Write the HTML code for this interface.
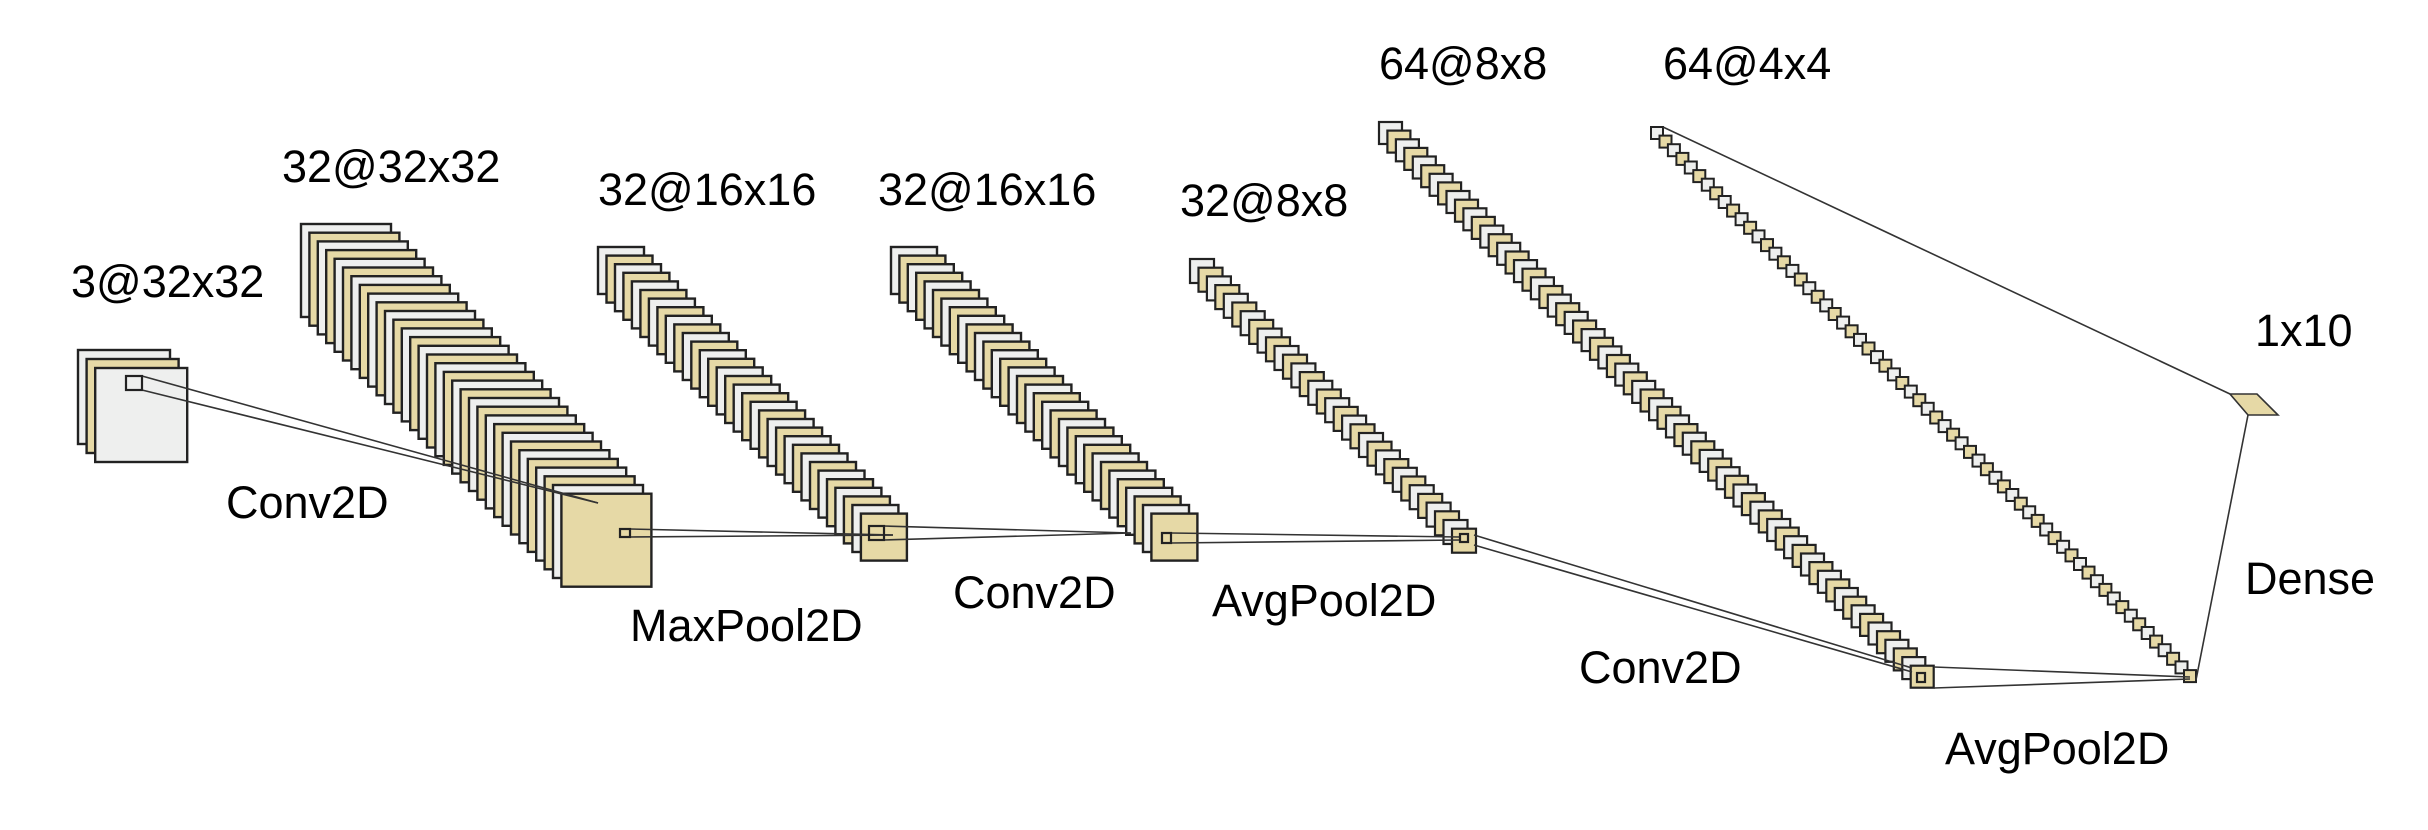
<!DOCTYPE html>
<html><head><meta charset="utf-8"><style>
html,body{margin:0;padding:0;background:#fff;width:2428px;height:830px;overflow:hidden}
svg{display:block}
text{font-family:"Liberation Sans",sans-serif;font-size:45px;fill:#000}
</style></head><body>
<svg id="s" width="2428" height="830" viewBox="0 0 2428 830" xmlns="http://www.w3.org/2000/svg">
<g id="stacks"></g>
<g id="lines" stroke="#333" stroke-width="1.6" fill="none">
<line x1="142" y1="376" x2="598" y2="503"/>
<line x1="142" y1="390" x2="598" y2="503"/>
<line x1="630" y1="529" x2="893" y2="535"/>
<line x1="630" y1="537" x2="893" y2="535"/>
<line x1="884" y1="526" x2="1131" y2="533"/>
<line x1="884" y1="540" x2="1131" y2="533"/>
<line x1="1171" y1="533" x2="1460" y2="537"/>
<line x1="1171" y1="543" x2="1460" y2="540"/>
<line x1="1474" y1="535" x2="1912" y2="668"/>
<line x1="1474" y1="545" x2="1912" y2="672"/>
<line x1="1934" y1="667" x2="2190" y2="677"/>
<line x1="1934" y1="688" x2="2190" y2="679"/>
<line x1="1663" y1="127" x2="2230" y2="394"/>
<line x1="2196" y1="680" x2="2248" y2="415"/>
</g>
<polygon points="2230,394 2257,394 2278,415 2248,415" fill="#e6d9a6" stroke="#333" stroke-width="1.6"/>
<g id="small" fill="none" stroke="#222" stroke-width="2.2">
<rect x="126" y="376" width="16" height="14"/>
<rect x="620" y="529" width="10" height="8"/>
<rect x="869" y="526" width="15" height="14"/>
<rect x="1162" y="533" width="9" height="10"/>
<rect x="1460" y="534" width="8" height="8"/>
<rect x="1917" y="673" width="8" height="9"/>
</g>
<text x="71" y="297">3@32x32</text>
<text x="282" y="182">32@32x32</text>
<text x="598" y="205">32@16x16</text>
<text x="878" y="205">32@16x16</text>
<text x="1180" y="216">32@8x8</text>
<text x="1379" y="79">64@8x8</text>
<text x="1663" y="79">64@4x4</text>
<text x="2255" y="346">1x10</text>
<text x="226" y="518">Conv2D</text>
<text x="630" y="641">MaxPool2D</text>
<text x="953" y="608">Conv2D</text>
<text x="1212" y="616">AvgPool2D</text>
<text x="1579" y="683">Conv2D</text>
<text x="1945" y="764">AvgPool2D</text>
<text x="2245" y="594">Dense</text>
</svg>
<script>
var specs=[[78,350,92,94,3,8.6,9,2.4],[301,224,90,93,32,8.4,8.7,2.4],[598,247,46,47,32,8.48,8.6,2.4],[891,247,46,47,32,8.4,8.6,2.4],[1190,259,24,24,32,8.45,8.7,2.2],[1379,122,23,22,64,8.44,8.63,2.2],[1651,127,12,12,64,8.46,8.62,2]];
var g=document.getElementById('stacks'),ns='http://www.w3.org/2000/svg';
specs.forEach(function(s){for(var i=0;i<s[4];i++){var r=document.createElementNS(ns,'rect');
r.setAttribute('x',(s[0]+i*s[5]).toFixed(1));r.setAttribute('y',(s[1]+i*s[6]).toFixed(1));
r.setAttribute('width',s[2]);r.setAttribute('height',s[3]);
r.setAttribute('fill',i%2?'#e6d9a6':'#eeefee');r.setAttribute('stroke','#222');r.setAttribute('stroke-width',s[7]);g.appendChild(r);}});
var sm=document.getElementById('small');document.getElementById('s').appendChild(document.getElementById('lines'));
document.getElementById('s').appendChild(sm);
</script>
</body></html>
